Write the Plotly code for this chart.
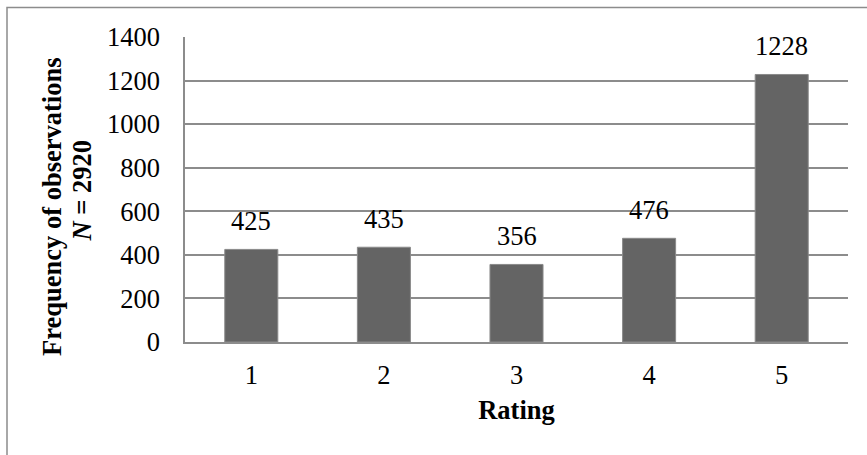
import plotly.graph_objects as go

# Frequency of ratings
ratings = ["1", "2", "3", "4", "5"]
counts = [425, 435, 356, 476, 1228]
y_ticks = [0, 200, 400, 600, 800, 1000, 1200, 1400]

FONT = "Liberation Serif"
FS = 26.5
GRID = "#8c8c8c"
BAR = "#646464"

# plot-area geometry in pixels (used to place paper-referenced items)
L, R, T, B = 185, 848, 36.5, 341.7
PW, PH = R - L, B - T


def px_x(x):
    return (x - L) / PW


def px_y(y):
    return (B - y) / PH


fig = go.Figure()
fig.add_trace(go.Bar(
    x=ratings,
    y=counts,
    width=0.4,
    marker=dict(color=BAR, line=dict(color="#8a8a8a", width=1)),
    hoverinfo="skip",
))

# value labels above each bar (category axis positions are indices)
for i, c in enumerate(counts):
    fig.add_annotation(
        x=i, y=c, text=str(c), showarrow=False,
        xanchor="center", yanchor="bottom", yshift=11,
        font=dict(family=FONT, size=FS, color="black"),
    )

# rotated y-axis title, two lines
fig.add_annotation(
    x=px_x(52), y=px_y(206.5), xref="paper", yref="paper",
    text="<b>Frequency of observations</b>",
    textangle=-90, showarrow=False, xanchor="center", yanchor="middle",
    font=dict(family=FONT, size=FS, color="black"),
)
fig.add_annotation(
    x=px_x(82), y=px_y(190), xref="paper", yref="paper",
    text="<b><i>N</i> = 2920</b>",
    textangle=-90, showarrow=False, xanchor="center", yanchor="middle",
    font=dict(family=FONT, size=FS, color="black"),
)

# outer chart frame
fig.add_shape(
    type="rect", xref="paper", yref="paper",
    x0=px_x(7), x1=2, y0=-2, y1=px_y(7),
    line=dict(color="#8c8c8c", width=1.5), layer="below",
)

fig.update_layout(
    width=867, height=455,
    margin=dict(l=L, r=867 - R, t=T, b=455 - B),
    paper_bgcolor="white", plot_bgcolor="white",
    showlegend=False,
    font=dict(family=FONT, size=FS, color="black"),
    xaxis=dict(
        type="category", range=[-0.5, 4.5], showgrid=False, showline=True,
        linecolor=GRID, linewidth=2, ticks="",
        ticklabelstandoff=8,
        title=dict(text="<b>Rating</b>", font=dict(family=FONT, size=FS), standoff=12),
    ),
    yaxis=dict(
        range=[0, 1400], tickvals=y_ticks, showgrid=True,
        gridcolor=GRID, gridwidth=1.5, showline=True, linecolor=GRID,
        linewidth=1.5, zeroline=False, ticks="", ticklabelstandoff=18,
    ),
)

fig.write_html("out.html")
